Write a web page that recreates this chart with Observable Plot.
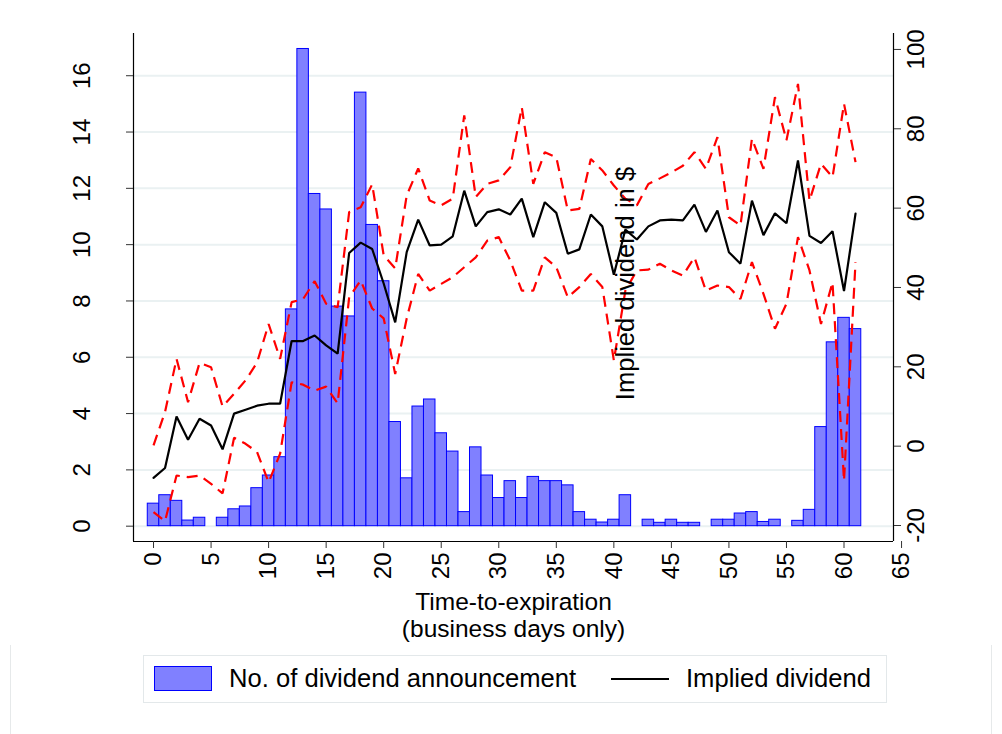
<!DOCTYPE html>
<html>
<head>
<meta charset="utf-8">
<script src="https://cdn.jsdelivr.net/npm/d3@7"></script>
<script src="https://cdn.jsdelivr.net/npm/@observablehq/plot@0.6"></script>
<style>
  html, body { margin: 0; padding: 0; background: white; }
  #wrap { position: relative; width: 1002px; height: 734px; overflow: hidden; font-family: "Liberation Sans", Arial, Helvetica, sans-serif; }
  #outer { position: absolute; left: 10px; top: -2px; width: 982px; height: 740px; border: 1px solid #e6e9ea; box-sizing: border-box; }
  #chart { position: absolute; left: 0; top: 0; }
  #legend { position: absolute; left: 143px; top: 655px; width: 744px; height: 48px; border: 1px solid #e3e8ea; box-sizing: border-box; font-size: 25.6px; color: black; }
  #legend .sw { position: absolute; left: 10px; top: 10px; width: 58px; height: 25px; background: #8080ff; border: 1px solid #0000ff; box-sizing: border-box; }
  #legend .t1 { position: absolute; left: 85px; top: 8px; white-space: nowrap; }
  #legend .ln { position: absolute; left: 467px; top: 22px; width: 58px; height: 2px; background: black; }
  #legend .t2 { position: absolute; left: 542px; top: 8px; white-space: nowrap; }
</style>
</head>
<body>
<div id="wrap">
  <div id="outer"></div>
  <div id="chart"></div>
  <div id="legend">
    <div class="sw"></div><div class="t1">No. of dividend announcement</div>
    <div class="ln"></div><div class="t2">Implied dividend</div>
  </div>
</div>
<script>
// ---- data ----
const days = [0,1,2,3,4,5,6,7,8,9,10,11,12,13,14,15,16,17,18,19,20,21,22,23,24,25,26,27,28,29,30,31,32,33,34,35,36,37,38,39,40,41,42,43,44,45,46,47,48,49,50,51,52,53,54,55,56,57,58,59,60,61];
const announcements = [0.8,1.1,0.9,0.2,0.3,0,0.3,0.6,0.7,1.35,1.8,2.45,7.7,16.95,11.8,11.25,7.8,7.45,15.4,10.7,8.7,3.7,1.7,4.25,4.5,3.3,2.65,0.5,2.8,1.8,1.0,1.6,1.0,1.75,1.6,1.6,1.45,0.5,0.23,0.13,0.23,1.1,0,0.23,0.12,0.23,0.12,0.12,0,0.23,0.23,0.45,0.5,0.15,0.23,0,0.19,0.58,3.52,6.53,7.4,7.0];
const implied = [-8,-5.5,7.5,1.6,6.9,5.2,-0.8,8.2,9.2,10.2,10.7,10.7,26.5,26.5,27.9,25.4,23.3,48.7,51.3,49.7,41,31.2,48.9,57.1,50.6,50.8,52.9,64.4,55.4,59,59.7,58.4,62.4,52.7,61.5,58.8,48.5,49.6,58.4,55.4,43.2,54.6,52.1,55.4,56.9,57.1,56.9,60.9,54,59.4,48.9,46,61.9,53.2,58.7,56.2,72,53,51.2,54.2,39.1,58.6];
const upperBand = [0.2,8.6,22,11.1,21,19.9,10,13.2,16.6,21.1,30.8,22,36.3,37.1,41.6,35.9,35,59,60.2,66,48.1,44.8,63.2,70,61.9,60.7,62.4,83.4,62.8,66.1,67,70.3,85.4,66.1,74.1,72.8,59.4,59.8,72.4,69.5,65.7,62.4,60.7,66.1,67.5,69,70.7,74.1,69.9,77.9,57.7,55.6,77.5,69.9,88,77.1,91.3,61.9,71.2,67.8,86.3,71.6];
const lowerBand = [-16.6,-18.9,-7.4,-7.8,-7.4,-9.5,-11.9,2.1,0.6,-1.5,-9.1,-1.9,16.1,15.5,14,15,10.8,37.5,41.8,34.7,32.2,18.2,32.2,43.4,39.2,40.9,42.6,45.1,47.6,51.8,52.7,46.8,39.2,39.2,47.6,45.1,37.5,40.1,43.4,40.1,21.6,39.2,44.3,44.5,46,44.3,43,47.6,39.2,40.5,40.1,37.1,46.4,38.4,29.6,35.9,52.7,44.3,30.8,41.3,-8.7,46.4];
const xTicks = [0,5,10,15,20,25,30,35,40,45,50,55,60,65];
const leftTicks = [0,2,4,6,8,10,12,14,16];
const rightTicks = [-20,0,20,40,60,80,100];
const xTitleLines = ["Time-to-expiration", "(business days only)"];
const rightTitle = "Implied dividend in $";

// ---- scales ----
const W = 1002, H = 645;
const FT = 33, FB = 541, FL = 133, FR = 893;
const X_DOMAIN = [-1.74, 64.30];
const Y_DOMAIN = [-0.544, 17.50];      // left axis (count)
const R_DOMAIN = [-24.03, 104.02];     // right axis (implied dividend) over same frame
const toLeft = r => Y_DOMAIN[0] + (r - R_DOMAIN[0]) / (R_DOMAIN[1] - R_DOMAIN[0]) * (Y_DOMAIN[1] - Y_DOMAIN[0]);

const rows = days.map((t, i) => ({t, count: announcements[i], implied: implied[i], upper: upperBand[i], lower: lowerBand[i]}));

const FS = 24, TFS = 25.6, XTFS = 24.5;
const font = "'Liberation Sans', Arial, Helvetica, sans-serif";

const chart = Plot.plot({
  width: W, height: H,
  marginTop: FT, marginBottom: H - FB, marginLeft: FL, marginRight: W - FR,
  x: {type: "linear", domain: X_DOMAIN, axis: null},
  y: {type: "linear", domain: Y_DOMAIN, axis: null},
  style: {fontFamily: font, background: "white", color: "black", overflow: "visible"},
  marks: [
    Plot.ruleY(leftTicks, {stroke: "#eaf1f2", strokeWidth: 2}),
    Plot.rectY(rows, {filter: d => d.count > 0, x1: d => d.t - 0.5, x2: d => d.t + 0.5, y1: 0, y2: "count", fill: "#8080ff", stroke: "#0000ff", strokeWidth: 1}),
    Plot.line(rows, {x: "t", y: d => toLeft(d.upper), stroke: "#ff0000", strokeWidth: 2.2, strokeDasharray: "11,7", strokeLinejoin: "miter", strokeLinecap: "butt"}),
    Plot.line(rows, {x: "t", y: d => toLeft(d.lower), stroke: "#ff0000", strokeWidth: 2.2, strokeDasharray: "11,7", strokeLinejoin: "miter", strokeLinecap: "butt"}),
    Plot.line(rows, {x: "t", y: d => toLeft(d.implied), stroke: "black", strokeWidth: 2.2, strokeLinejoin: "miter"}),
    // axis lines
    Plot.ruleX([X_DOMAIN[0]], {stroke: "black", strokeWidth: 1.2}),
    Plot.ruleX([X_DOMAIN[1]], {stroke: "black", strokeWidth: 1.2}),
    Plot.ruleY([Y_DOMAIN[0]], {stroke: "black", strokeWidth: 1.2}),
    // left axis
    Plot.axisY(leftTicks, {anchor: "left", label: null, tickSize: 7, tickFormat: () => "", stroke: "#333"}),
    Plot.text(leftTicks, {y: d => d, text: d => String(d), frameAnchor: "left", dx: -51, rotate: -90, textAnchor: "middle", lineAnchor: "middle", fontSize: FS, fill: "black"}),
    // right axis
    Plot.axisY(rightTicks.map(toLeft), {anchor: "right", label: null, tickSize: 7, tickFormat: () => "", stroke: "#333"}),
    Plot.text(rightTicks, {y: d => toLeft(d), text: d => String(d), frameAnchor: "right", dx: 23, rotate: -90, textAnchor: "middle", lineAnchor: "middle", fontSize: FS, fill: "black"}),
    // bottom axis
    Plot.axisX(xTicks, {anchor: "bottom", label: null, tickSize: 7, tickFormat: () => "", stroke: "#333"}),
    Plot.text(xTicks, {x: d => d, text: d => String(d), frameAnchor: "bottom", dy: 11, rotate: -90, textAnchor: "end", lineAnchor: "middle", fontSize: FS, fill: "black"}),
    // titles
    Plot.text([xTitleLines[0]], {frameAnchor: "bottom", dy: 61, text: d => d, lineAnchor: "middle", textAnchor: "middle", fontSize: XTFS, fill: "black"}),
    Plot.text([xTitleLines[1]], {frameAnchor: "bottom", dy: 88, text: d => d, lineAnchor: "middle", textAnchor: "middle", fontSize: XTFS, fill: "black"}),
    Plot.text([rightTitle], {frameAnchor: "left", dx: 625 - FL, dy: -4, text: d => d, rotate: -90, textAnchor: "middle", lineAnchor: "middle", fontSize: TFS, fill: "black"})
  ]
});
document.getElementById("chart").appendChild(chart);
</script>
</body>
</html>
